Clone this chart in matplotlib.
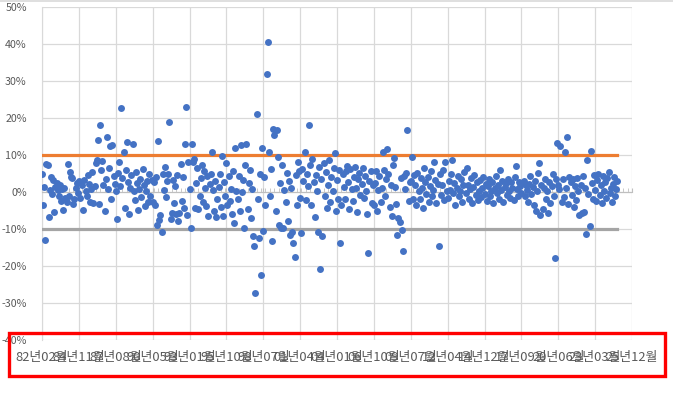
import numpy as np
import matplotlib.pyplot as plt
from matplotlib.ticker import MultipleLocator, FuncFormatter
from matplotlib.patches import Rectangle
from matplotlib.lines import Line2D
import matplotlib.transforms as mtransforms

plt.rcParams['font.family'] = ['Noto Sans CJK KR', 'DejaVu Sans']

# 월간 수익률 (%), 33개월 단위로 나눠서 입력
seg00 = [5.0, -3.5, 1.4, -13.0, 7.5, 7.2, -6.8, 0.5, 4.0, -0.5, 3.2, -5.4, 1.4, 2.4, 0.6, -1.2, 1.8,
         -2.3, 0.8, -4.8, 1.2, -1.6, -2.8, 7.5, -1.0, 5.4, 4.0, 3.8, -3.2, -2.0, 1.0, 2.5, -0.3]
seg01 = [3.0, -1.5, 2.6, 1.8, -4.9, 3.2, 0.4, -1.0, 4.5, 2.2, -2.6, 0.8, 5.5, -3.0, 1.6, 7.8, 8.6,
         14.0, -3.2, 18.0, 6.0, 8.4, 2.0, -5.0, 3.5, 15.0, 0.8, 6.5, 12.4, -1.8, 12.7, 4.3, 2.2]
seg02 = [0.3, -7.3, 5.2, 8.0, 1.5, 22.7, 3.8, 10.8, -4.3, 6.0, 13.5, 2.8, -6.0, 1.0, 4.6, 13.0, 0.2,
         -2.2, 5.5, 2.4, -4.9, 0.9, 3.6, -1.4, 6.2, 1.8, -3.8, 0.4, 2.9, -2.6, 5.0, -1.0, 3.3]
seg03 = [-2.8, 2.7, -3.5, 4.0, -9.0, 13.8, -7.6, -6.2, -10.8, 5.0, 0.5, 6.8, -1.4, 3.0, 4.9, 19.0, -7.4,
         -5.8, 3.2, -3.0, 1.6, -6.0, 4.6, -7.8, -5.6, 7.6, -2.4, 4.0, -4.4, 13.0, 22.9, -6.2, 8.0]
seg04 = [0.8, -9.7, 13.0, 8.0, 9.0, -4.3, 2.4, 6.4, -4.6, -1.2, 3.8, 7.2, -2.6, 5.6, 1.0, -3.8, 4.4,
         -6.5, 2.2, 4.8, 10.8, 0.6, -5.2, 3.0, -6.8, -2.0, 1.4, 5.0, -4.0, 9.7, -6.4, 2.6, -1.0]
seg05 = [7.8, -3.4, 4.4, -2.4, 0.8, -6.0, 5.6, -8.4, 12.0, 0.4, -1.8, 4.2, -5.0, 12.8, 0.0, 3.2, -9.8,
         7.4, 13.0, -4.6, 2.4, 6.0, -7.0, 0.9, -12.0, -14.6, -27.3, 21.0, -2.0, -12.4, 4.8, -22.4, 12.0]
seg06 = [-10.5, 4.0, -3.6, 32.0, 40.5, 10.8, -1.2, 6.2, -13.2, 17.0, 15.4, -5.0, 16.8, 9.5, -8.8, 2.4, -9.6,
         7.3, -9.7, 0.6, -2.8, 5.2, -7.8, 3.0, -11.6, 1.2, -10.8, -13.8, -17.6, 4.5, -3.5, 8.2, 5.6]
seg07 = [-1.5, -11.0, 6.2, 3.0, 10.8, -2.2, 5.0, 1.6, 18.0, 7.4, -3.6, 9.0, 2.8, -6.8, 4.6, 0.4, -10.8,
         6.8, -20.8, 3.4, -11.9, 7.8, -1.0, 5.4, -4.2, 2.0, 8.6, -2.8, 4.0, 0.2, 6.6, 10.5, -5.0]
seg08 = [3.2, -2.0, 6.0, -13.8, -3.5, 4.8, 1.4, -1.8, 5.6, 7.0, 2.6, -4.6, 6.2, 0.8, -2.4, 4.0, 6.8,
         1.0, -5.4, 3.6, 5.2, -0.8, 2.2, 6.4, -1.6, 4.4, 0.2, -6.0, -16.5, 3.0, 5.8, -3.0, 1.8]
seg09 = [-3.5, 2.4, 5.6, -5.2, 0.6, 4.2, -2.8, 1.2, 10.8, 6.0, -1.0, 3.4, 11.6, 5.0, -4.0, 2.0, -6.4,
         7.2, 9.2, 1.4, -3.2, -11.6, -7.0, -8.0, 3.8, -10.3, -16.0, 4.4, 0.8, 5.2, 16.8, -2.4, 2.6]
seg10 = [3.0, 9.5, -1.8, 4.6, 2.0, -3.6, 5.2, 0.4, -2.0, 3.8, 1.0, -4.2, 6.4, 2.6, -0.6, 4.0, -2.6,
         1.6, 5.8, -1.2, 0.6, 8.0, 3.2, -3.0, 2.2, -14.6, 4.8, -0.8, 1.8, 6.0, -2.2, 8.0, 0.4]
seg11 = [-1.6, 3.0, 0.6, 5.0, 8.6, -0.4, 2.4, -3.4, 1.2, 4.4, -1.0, 0.2, 3.6, -2.6, 1.8, 5.4, -0.2,
         6.5, 2.0, -1.8, 0.8, 3.8, -3.0, 1.4, 4.6, -0.8, 2.6, -2.2, 0.4, 3.2, -1.4, 1.0, 4.0]
seg12 = [-0.6, 2.2, -2.4, 1.6, 3.4, -1.2, 0.4, 2.8, -3.0, 1.0, 4.2, -0.4, 2.0, -1.8, 6.0, 0.6, 3.0,
         -2.6, 1.4, 2.4, -0.8, 3.6, 0.2, -1.6, 2.6, 1.2, -2.2, 4.0, 7.0, 0.8, -1.0, 2.8, 1.6]
seg13 = [-0.4, 2.4, 3.0, -1.2, 1.8, 0.6, -2.8, 2.2, 4.2, -0.6, 1.4, -3.6, 3.0, -5.0, 0.4, 5.2, 7.8,
         -6.2, 2.0, -4.6, 1.0, 3.6, -2.0, 0.2, -5.6, 2.8, -3.0, 1.6, 4.8, -1.0, -17.8, 3.4, 13.2]
seg14 = [2.0, 0.8, 12.4, -2.6, 3.6, -1.4, 10.8, 1.0, 14.9, -3.2, 4.0, 2.6, -0.8, 3.4, -4.0, 1.6, -2.2,
         3.8, 0.4, -6.2, 2.0, -5.8, 4.4, -5.4, 1.2, -11.4, 8.6, -0.6, -9.2, 11.0, 2.4, -2.0, 4.6]
seg15 = [0.6, -2.4, 3.2, 5.0, -0.8, 1.8, -3.0, 4.4, 0.2, 2.6, -1.6, 3.8, 5.4, -0.4, 1.2, -2.8, 2.2,
         4.0, -1.2, 0.8, 3.0]

returns = np.array(seg00 + seg01 + seg02 + seg03 + seg04 + seg05 + seg06 + seg07 +
                   seg08 + seg09 + seg10 + seg11 + seg12 + seg13 + seg14 + seg15) / 100

upper = 0.10
lower = -0.10

tick_labels = ['82년02월', '84년11월', '87년08월', '90년05월', '93년01월', '95년10월', '98년07월',
               '01년04월', '04년01월', '06년10월', '09년07월', '12년04월', '14년12월', '17년09월',
               '20년06월', '23년03월', '25년12월']
label_step = 33

x = np.arange(len(returns))
n_cat = label_step * (len(tick_labels) - 1)

fig = plt.figure(figsize=(6.73, 3.98), dpi=100)
ax = fig.add_axes([42 / 673, 1 - 340 / 398, 590 / 673, 333 / 398])

ax.plot(x, np.full(len(x), upper), color='#ED7D31', lw=2.3, zorder=3)
ax.plot(x, np.full(len(x), lower), color='#A5A5A5', lw=2.3, zorder=3)
ax.plot(x, returns, 'o', color='#4472C4', markersize=5, markeredgewidth=0, zorder=4)

ax.set_xlim(0, n_cat)
ax.set_ylim(-0.4, 0.5)
ax.yaxis.set_major_locator(MultipleLocator(0.1))
ax.yaxis.set_major_formatter(FuncFormatter(lambda v, p: f'{v * 100:.0f}%'))
ax.xaxis.set_major_locator(MultipleLocator(label_step))
ax.xaxis.set_minor_locator(MultipleLocator(4))
ax.grid(True, which='major', color='#D9D9D9', lw=0.9, zorder=0)

for s in ['top', 'right']:
    ax.spines[s].set_visible(False)
ax.spines['left'].set_color('#D9D9D9')
ax.spines['bottom'].set_position(('data', 0))
ax.spines['bottom'].set_color('#BFBFBF')
ax.tick_params(axis='x', which='both', direction='in', length=3, color='#BFBFBF', labelbottom=False)
ax.tick_params(axis='y', length=0, pad=11, labelsize=7.7, labelcolor='#595959')

trans = mtransforms.blended_transform_factory(ax.transData, fig.transFigure)
for i, lab in enumerate(tick_labels):
    ax.text(i * label_step, 1 - 358 / 398, lab, transform=trans, ha='center', va='center',
            fontsize=9.3, color='#595959', clip_on=False)

# 위쪽 테두리선과 빨간 박스
fig.add_artist(Line2D([0, 1], [1 - 0.8 / 398, 1 - 0.8 / 398], color='#D9D9D9', lw=1.2))
fig.add_artist(Rectangle((9 / 673, 1 - 376 / 398), 656 / 673, 43 / 398, transform=fig.transFigure,
                         fill=False, edgecolor='#FF0000', lw=2.4))

fig.savefig('out.png', dpi=100)
